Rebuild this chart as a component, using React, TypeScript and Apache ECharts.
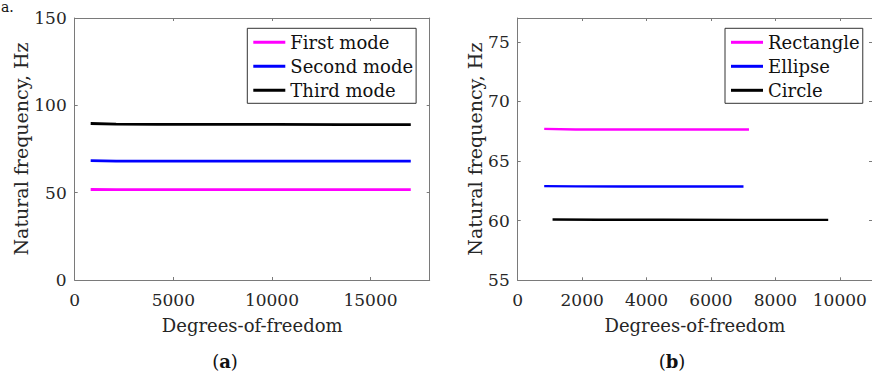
import React, { useEffect, useRef } from "react";
import * as echarts from "echarts";

// Panel (a): mode frequencies vs degrees-of-freedom
const dofA = [810, 2100, 4200, 6800, 10200, 13500, 17040];
const firstMode = [51.8, 51.7, 51.7, 51.7, 51.7, 51.7, 51.7];
const secondMode = [68.3, 68.1, 68.1, 68.1, 68.1, 68.1, 68.1];
const thirdMode = [89.6, 89.2, 89.1, 89.1, 89.1, 89.0, 89.0];

// Panel (b): first-mode frequency for cross sections
const dofRect = [823, 1800, 3300, 5200, 7180];
const rectangle = [67.7, 67.65, 67.65, 67.65, 67.65];
const dofEllipse = [823, 1800, 3300, 5200, 7010];
const ellipse = [62.9, 62.88, 62.87, 62.87, 62.87];
const dofCircle = [1082, 2500, 4500, 7000, 9640];
const circle = [60.1, 60.08, 60.08, 60.07, 60.07];

const xTicksA = [0, 18000, 5000];
const yTicksA = [0, 150, 50];
const xTicksB = [0, 11000, 2000];
const yTicksB = [55, 77, 5];

const FONT = "DejaVu Serif, Liberation Serif, serif";
const AXIS_COLOR = "#7a7a7a";
const LABEL_COLOR = "#262626";

function zip(xs: number[], ys: number[]) {
  return xs.map((x, i) => [x, ys[i]]);
}

export default function App() {
  const ref = useRef<HTMLDivElement>(null);
  useEffect(() => {
    if (!ref.current) return;
    const chart = echarts.init(ref.current, null, { renderer: "svg" });
    const gridA = { left: 74.7, top: 18, width: 355, height: 262 };
    const gridB = { left: 517.7, top: 18, width: 355.7, height: 262.3 };

    const mkX = (gi: number, t: number[], primary: boolean, name: string) => ({
      type: "value",
      gridIndex: gi,
      position: primary ? "bottom" : "top",
      min: t[0],
      max: t[1],
      interval: t[2],
      name: primary ? name : "",
      nameLocation: "middle",
      nameGap: 36,
      nameTextStyle: { fontFamily: FONT, fontSize: 18, color: LABEL_COLOR },
      axisLine: { show: true, onZero: false, lineStyle: { color: AXIS_COLOR, width: 1 } },
      axisTick: { show: true, inside: true, length: 3, lineStyle: { color: AXIS_COLOR } },
      axisLabel: {
        show: primary,
        fontFamily: FONT,
        fontSize: 17,
        color: LABEL_COLOR,
        margin: 11,
        showMaxLabel: false,
        formatter: (v: number) => String(v),
      },
      splitLine: { show: false },
    });
    const mkY = (gi: number, t: number[], primary: boolean, name: string, gap: number) => ({
      type: "value",
      gridIndex: gi,
      position: primary ? "left" : "right",
      min: t[0],
      max: t[1],
      interval: t[2],
      name: primary ? name : "",
      nameLocation: "middle",
      nameGap: gap,
      nameTextStyle: { fontFamily: FONT, fontSize: 19, color: LABEL_COLOR },
      axisLine: { show: true, onZero: false, lineStyle: { color: AXIS_COLOR, width: 1 } },
      axisTick: { show: true, inside: true, length: 3, lineStyle: { color: AXIS_COLOR } },
      axisLabel: {
        show: primary,
        fontFamily: FONT,
        fontSize: 17,
        color: LABEL_COLOR,
        margin: 8,
        showMaxLabel: gi === 0,
        formatter: (v: number) => String(v),
      },
      splitLine: { show: false },
    });

    const line = (name: string, data: number[][], color: string, xi: number, yi: number, w: number) => ({
      type: "line",
      name,
      data,
      xAxisIndex: xi,
      yAxisIndex: yi,
      showSymbol: false,
      symbol: "none",
      lineStyle: { color, width: w },
      itemStyle: { color },
      silent: true,
    });

    const legendCommon = {
      orient: "vertical",
      icon: "rect",
      itemWidth: 32,
      itemHeight: 3,
      itemGap: 4,
      padding: [4, 3, 3, 6],
      borderColor: "#333",
      borderWidth: 1,
      backgroundColor: "#fff",
      textStyle: { fontFamily: FONT, fontSize: 18, color: "#111", lineHeight: 20 },
      selectedMode: false,
    };

    chart.setOption({
      animation: false,
      textStyle: { fontFamily: FONT },
      grid: [gridA, gridB],
      xAxis: [
        mkX(0, xTicksA, true, "Degrees-of-freedom"),
        mkX(0, xTicksA, false, ""),
        mkX(1, xTicksB, true, "Degrees-of-freedom"),
        mkX(1, xTicksB, false, ""),
      ],
      yAxis: [
        mkY(0, yTicksA, true, "Natural frequency, Hz", 44),
        mkY(0, yTicksA, false, "", 0),
        mkY(1, yTicksB, true, "Natural frequency, Hz", 32),
        mkY(1, yTicksB, false, "", 0),
      ],
      legend: [
        { ...legendCommon, left: 247.3, top: 28.3, data: ["First mode", "Second mode", "Third mode"] },
        { ...legendCommon, left: 725, top: 28.3, data: ["Rectangle", "Ellipse", "Circle"] },
      ],
      series: [
        line("First mode", zip(dofA, firstMode), "#ff00ff", 0, 0, 2.8),
        line("Second mode", zip(dofA, secondMode), "#0000ff", 0, 0, 2.8),
        line("Third mode", zip(dofA, thirdMode), "#000000", 0, 0, 2.8),
        line("Rectangle", zip(dofRect, rectangle), "#ff00ff", 2, 2, 2.4),
        line("Ellipse", zip(dofEllipse, ellipse), "#0000ff", 2, 2, 2.4),
        line("Circle", zip(dofCircle, circle), "#000000", 2, 2, 2.4),
      ],
      graphic: [
        {
          type: "text",
          left: 1,
          top: 0,
          style: { text: "a.", fontFamily: FONT, fontSize: 14, fill: "#111" },
        },
        {
          type: "text",
          x: 225,
          y: 361,
          style: {
            text: "({b|a})",
            fontFamily: FONT,
            fontSize: 18,
            fill: "#111",
            align: "center",
            verticalAlign: "middle",
            rich: { b: { fontFamily: FONT, fontSize: 18, fontWeight: "bold", fill: "#111" } },
          },
        },
        {
          type: "text",
          x: 672,
          y: 361,
          style: {
            text: "({b|b})",
            fontFamily: FONT,
            fontSize: 18,
            fill: "#111",
            align: "center",
            verticalAlign: "middle",
            rich: { b: { fontFamily: FONT, fontSize: 18, fontWeight: "bold", fill: "#111" } },
          },
        },
      ],
    });
    return () => chart.dispose();
  }, []);
  return <div ref={ref} style={{ width: 872, height: 372, position: "absolute", left: 0, top: 0 }} />;
}
